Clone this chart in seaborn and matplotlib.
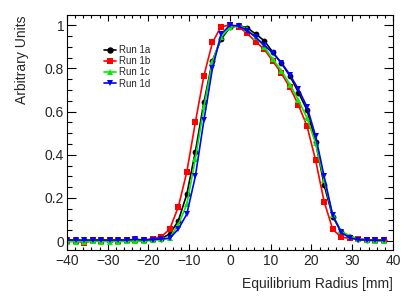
import numpy as np
import pandas as pd
import seaborn as sns
import matplotlib
matplotlib.use("Agg")
import matplotlib.pyplot as plt
from matplotlib.ticker import MultipleLocator

radius = [-40.0, -37.9, -35.8, -33.7, -31.6, -29.5, -27.4, -25.3, -23.2, -21.1,
          -19.0, -16.9, -14.8, -12.7, -10.6, -8.5, -6.4, -4.3, -2.2, 0.0,
          2.1, 4.2, 6.3, 8.4, 10.5, 12.6, 14.7, 16.8, 18.9, 21.0,
          23.1, 25.2, 27.3, 29.4, 31.5, 33.6, 35.7, 37.8]

run_1a = [0.004, 0.004, 0.003, 0.004, 0.004, 0.004, 0.004, 0.005, 0.006, 0.005,
          0.008, 0.012, 0.033, 0.093, 0.217, 0.414, 0.643, 0.835, 0.935, 0.99,
          0.997, 0.988, 0.959, 0.928, 0.875, 0.824, 0.765, 0.688, 0.607, 0.46,
          0.26, 0.113, 0.044, 0.021, 0.01, 0.005, 0.004, 0.004]
run_1b = [0.002, 0.002, -0.008, 0.003, 0.002, 0.003, 0.002, 0.003, 0.005, 0.004,
          0.012, 0.02, 0.055, 0.157, 0.32, 0.55, 0.766, 0.92, 0.993, 1.0,
          0.993, 0.962, 0.924, 0.888, 0.834, 0.777, 0.712, 0.63, 0.533, 0.375,
          0.183, 0.055, 0.018, 0.013, 0.012, 0.005, 0.003, 0.003]
run_1c = [-0.002, -0.002, -0.002, -0.001, -0.002, -0.002, -0.002, -0.001, 0.0, -0.001,
          0.004, 0.008, 0.015, 0.075, 0.17, 0.38, 0.62, 0.83, 0.945, 0.99,
          1.0, 0.98, 0.945, 0.9, 0.842, 0.79, 0.725, 0.653, 0.57, 0.453,
          0.283, 0.12, 0.045, 0.024, 0.01, 0.004, 0.002, 0.002]
run_1d = [0.005, 0.005, 0.004, 0.005, 0.005, 0.004, 0.005, 0.005, 0.009, 0.005,
          0.007, 0.01, 0.013, 0.055, 0.125, 0.30, 0.56, 0.80, 0.958, 1.0,
          0.996, 0.975, 0.944, 0.908, 0.87, 0.827, 0.77, 0.703, 0.622, 0.487,
          0.30, 0.12, 0.04, 0.015, 0.006, 0.005, 0.004, 0.004]

runs = ["Run 1a", "Run 1b", "Run 1c", "Run 1d"]
colors = ["#000000", "#ff0000", "#00ee00", "#0000ff"]
markers = ["o", "s", "^", "v"]

df = pd.concat([
    pd.DataFrame({"radius": radius, "value": vals, "run": name})
    for name, vals in zip(runs, [run_1a, run_1b, run_1c, run_1d])
], ignore_index=True)

sns.set_style("ticks")
plt.rcParams["font.family"] = ["Liberation Sans", "DejaVu Sans"]

fig = plt.figure(figsize=(4.15, 3.0), dpi=100)
ax = fig.add_axes([0.1614, 0.1667, 0.947 - 0.1614, 0.95 - 0.1667])

sns.lineplot(data=df, x="radius", y="value", hue="run", style="run",
             hue_order=runs, style_order=runs,
             palette=dict(zip(runs, colors)),
             markers=dict(zip(runs, markers)), dashes=False,
             errorbar=None, sort=False, legend=False, ax=ax,
             linewidth=1.2, markersize=4.2, markeredgewidth=0)

ax.set_xlim(-40, 40)
ax.set_ylim(-0.041, 1.047)
ax.xaxis.set_major_locator(MultipleLocator(10))
ax.xaxis.set_minor_locator(MultipleLocator(2))
ax.yaxis.set_major_locator(MultipleLocator(0.2))
ax.yaxis.set_minor_locator(MultipleLocator(0.05))
ax.set_yticks([0, 0.2, 0.4, 0.6, 0.8, 1.0])
ax.set_yticklabels(["0", "0.2", "0.4", "0.6", "0.8", "1"])

ax.tick_params(axis="both", which="both", direction="in", top=True, right=True,
               labelsize=10, color="black", width=0.8)
ax.tick_params(axis="y", which="major", length=6.5, pad=2)
ax.tick_params(axis="y", which="minor", length=3.6)
ax.tick_params(axis="x", which="major", length=4.2, pad=3)
ax.tick_params(axis="x", which="minor", length=2.2)
for s in ax.spines.values():
    s.set_color("black")
    s.set_linewidth(0.8)

ax.set_xlabel("Equilibrium Radius [mm]", fontsize=10, loc="right")
ax.xaxis.set_label_coords(1.0, -0.115)
ax.set_ylabel("Arbitrary Units", fontsize=10, loc="top")
ax.yaxis.set_label_coords(-0.115, 1.0)

handles = ax.lines[:4]
ax.legend(handles=handles, labels=runs, loc="upper left",
          bbox_to_anchor=(0.115, 0.872), frameon=False, fontsize=7,
          handlelength=1.2, handletextpad=0.3, labelspacing=0.12,
          borderpad=0, borderaxespad=0, markerscale=1.1)

fig.savefig("out.png", dpi=100)
